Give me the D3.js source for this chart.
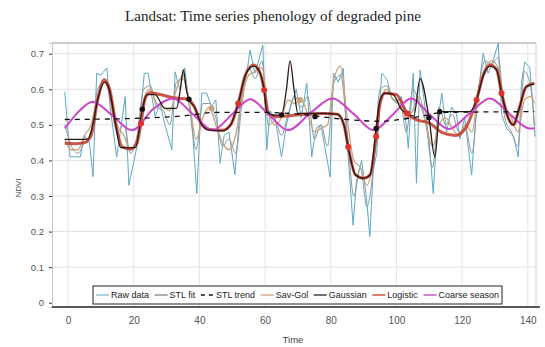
<!DOCTYPE html>
<html>
<head>
<meta charset="utf-8">
<script src="https://cdn.jsdelivr.net/npm/d3@7"></script>
<style>
  body { margin: 0; background: #fff; }
  svg { display: block; }
</style>
</head>
<body>
<div id="chart"></div>
<script>
// ---- data (time, NDVI) ----
const rawData = [[-1,0.593],[0.6,0.41],[2,0.41],[3.7,0.41],[5,0.47],[6.5,0.45],[7.6,0.354],[8.7,0.645],[10,0.64],[11.8,0.66],
  [12.8,0.55],[14.8,0.41],[17.4,0.579],[18.5,0.33],[21.4,0.457],[23.2,0.645],[24.4,0.645],[26.5,0.523],[28,0.56],[29.5,0.5],
  [31.6,0.43],[32.6,0.649],[34,0.6],[35.5,0.66],[37,0.55],[38,0.47],[39.2,0.307],[40.7,0.589],[42.2,0.589],[43.7,0.551],
  [45,0.57],[46.3,0.392],[47.5,0.47],[49,0.48],[50.8,0.36],[52,0.5],[52.9,0.598],[54.5,0.65],[55.4,0.71],[56.9,0.645],
  [58,0.68],[59.3,0.724],[60.5,0.43],[61.5,0.54],[63,0.52],[65,0.41],[66.5,0.5],[68,0.56],[69.5,0.6],[71,0.52],
  [72.7,0.617],[74.2,0.41],[75.5,0.49],[77,0.5],[79.8,0.354],[80.8,0.645],[82.3,0.62],[83.8,0.659],[84.8,0.476],[86.8,0.218],
  [87.8,0.34],[89.4,0.4],[90.8,0.3],[91.9,0.186],[92.9,0.37],[94,0.42],[95.5,0.645],[97,0.63],[98.5,0.58],[100,0.56],
  [101.5,0.58],[103,0.5],[103.6,0.434],[105.1,0.645],[106.1,0.336],[107.2,0.654],[108.7,0.55],[110,0.45],[111.2,0.307],[112.5,0.5],
  [113.8,0.589],[115.3,0.48],[116.8,0.55],[118.3,0.53],[119.3,0.46],[120.8,0.52],[122.9,0.359],[124.4,0.551],[126.4,0.701],[127.9,0.645],
  [129.4,0.68],[131,0.729],[132,0.53],[133.5,0.49],[135.6,0.47],[137.1,0.41],[138.1,0.62],[139.1,0.677],[140.6,0.66],[141.6,0.55],[142.2,0.467]];

const stlFit = [[-1,0.5],[1,0.44],[3,0.42],[5,0.45],[7,0.47],[9,0.6],[11,0.62],[13,0.58],[15,0.48],[17,0.5],[19,0.42],
  [21,0.47],[23,0.6],[25,0.61],[27,0.55],[29,0.54],[31,0.5],[33,0.62],[35,0.63],[37,0.55],[39,0.43],[41,0.56],[43,0.56],
  [45,0.52],[47,0.44],[49,0.46],[51,0.42],[53,0.56],[55,0.66],[57,0.63],[59,0.68],[61,0.5],[63,0.51],[65,0.47],[67,0.53],
  [69,0.58],[71,0.55],[73,0.58],[75,0.46],[77,0.5],[79,0.44],[81,0.62],[83,0.64],[85,0.48],[87,0.3],[89,0.38],[91,0.27],
  [93,0.38],[95,0.6],[97,0.61],[99,0.57],[101,0.57],[103,0.48],[105,0.6],[107,0.56],[109,0.5],[111,0.38],[113,0.55],[115,0.5],
  [117,0.53],[119,0.48],[121,0.49],[123,0.42],[125,0.6],[127,0.68],[129,0.67],[131,0.69],[133,0.52],[135,0.48],[137,0.44],
  [139,0.65],[141,0.6],[142,0.5]];

const stlTrend = [[-1,0.515],[20,0.518],[35,0.525],[45,0.535],[60,0.535],[70,0.53],[85,0.515],[95,0.51],[105,0.52],[115,0.535],[142,0.537]];

const savGol = [[-1,0.46],[1,0.43],[3,0.43],[5,0.47],[7,0.5],[9,0.58],[11,0.63],[13,0.6],[15,0.5],[17,0.47],[19,0.43],
  [21,0.46],[23,0.57],[25,0.6],[27,0.56],[29,0.55],[31,0.54],[33,0.6],[35,0.64],[37,0.56],[39,0.46],[41,0.52],[43,0.55],
  [45,0.5],[47,0.45],[49,0.43],[51,0.47],[53,0.58],[55,0.64],[57,0.65],[59,0.66],[61,0.54],[63,0.5],[65,0.52],[67,0.57],
  [69,0.56],[71,0.57],[73,0.53],[75,0.48],[77,0.49],[79,0.5],[81,0.63],[83,0.665],[85,0.52],[87,0.4],[89,0.38],[91,0.33],
  [93,0.4],[95,0.56],[97,0.6],[99,0.57],[101,0.56],[103,0.52],[105,0.54],[107,0.58],[109,0.5],[111,0.44],[113,0.5],[115,0.52],
  [117,0.49],[119,0.47],[121,0.5],[123,0.48],[125,0.6],[127,0.66],[129,0.68],[131,0.66],[133,0.56],[135,0.52],[137,0.48],
  [139,0.57],[141,0.58],[142,0.56]];

const gaussian = [[-1,0.459],[3,0.459],[6,0.46],[7.5,0.5],[9,0.57],[11.2,0.62],[12.5,0.6],[14.5,0.5],[16,0.436],[20.5,0.436],
  [22.6,0.544],[24,0.585],[26.5,0.585],[29.5,0.546],[33,0.546],[34.2,0.6],[35.1,0.655],[36,0.6],[36.8,0.572],[38.5,0.55],
  [40.5,0.504],[43,0.485],[47,0.483],[49.5,0.5],[51.8,0.56],[54,0.64],[56.5,0.665],[58.5,0.645],[59.7,0.598],[60.5,0.537],
  [63,0.527],[65,0.528],[66.5,0.6],[67.6,0.68],[68.8,0.6],[70,0.532],[78,0.532],[82,0.53],[84,0.5],[85.3,0.438],[87.5,0.36],
  [90,0.35],[92,0.36],[93.8,0.49],[95,0.57],[96.5,0.589],[99,0.585],[101.6,0.542],[105.3,0.525],[107.2,0.63],[109.9,0.52],
  [111.7,0.41],[113.2,0.537],[122.4,0.537],[124.4,0.57],[126.5,0.64],[128.5,0.665],[130.5,0.655],[132,0.589],[134,0.52],
  [135.6,0.5],[137.5,0.55],[139.5,0.607],[142,0.615]];

const logistic = [[-1,0.448],[2,0.447],[5,0.45],[7,0.47],[9,0.57],[11,0.626],[12.5,0.6],[14.5,0.5],[16.5,0.438],[19,0.432],
  [21,0.45],[22.2,0.504],[23.5,0.575],[25,0.59],[28,0.585],[32,0.576],[36.5,0.572],[38.5,0.55],[40.5,0.504],[43,0.487],
  [47,0.485],[49.5,0.5],[51.8,0.56],[54,0.64],[56.5,0.668],[58.5,0.645],[59.7,0.598],[61,0.53],[63,0.523],[67,0.525],
  [72,0.53],[78,0.532],[82,0.53],[84,0.5],[85.3,0.438],[87.5,0.36],[90,0.35],[92,0.36],[93.8,0.467],[95,0.56],[96.5,0.589],
  [100,0.585],[103.3,0.532],[106.5,0.513],[110,0.505],[114,0.478],[118,0.47],[121,0.49],[124.4,0.57],[126.5,0.64],
  [128.5,0.668],[130.5,0.655],[132,0.589],[134,0.52],[135.6,0.5],[137.5,0.55],[139.5,0.607],[142,0.617]];

const coarseSeason = [[-1,0.49],[3,0.535],[7.5,0.565],[13,0.53],[19.5,0.485],[26,0.545],[32,0.574],[38,0.53],[44,0.485],
  [50,0.53],[55.5,0.572],[61,0.53],[67,0.485],[74,0.535],[80.5,0.574],[87,0.53],[93,0.485],[99,0.53],[104.5,0.574],
  [110,0.53],[116,0.488],[122,0.53],[128.5,0.574],[134.5,0.53],[140.5,0.49],[142,0.49]];

// phenology points
const logisticPheno = [[22.2,0.504],[51.8,0.56],[59.7,0.598],[85.3,0.438],[93.8,0.467],[103.3,0.532],[124.4,0.57],[132,0.589]];
const gaussianPheno = [[22.6,0.544],[36.8,0.572],[65,0.528],[75.2,0.523],[93.8,0.49],[109.9,0.52],[113.2,0.537]];
const savGolPheno = [[43.7,0.546],[70.6,0.57]];

const xTicks = [0, 20, 40, 60, 80, 100, 120, 140];
const yTicks = [0, 0.1, 0.2, 0.3, 0.4, 0.5, 0.6, 0.7];

const legendNames = ["Raw data", "STL fit", "STL trend", "Sav-Gol", "Gaussian", "Logistic", "Coarse season"];

// ---- layout ----
const width = 545, height = 347;
const plot = { left: 52, right: 536, top: 43, bottom: 307 };

const svg = d3.select("#chart").append("svg")
  .attr("width", width)
  .attr("height", height);

const x = d3.scaleLinear().domain([-4.9, 142.5]).range([plot.left, plot.right]);
const y = d3.scaleLinear().domain([-0.012, 0.73]).range([plot.bottom, plot.top]);

const tickFont = "'Liberation Sans Narrow', 'Arial Narrow', 'Liberation Sans', sans-serif";

// grid
svg.append("g")
  .selectAll("line.h")
  .data(yTicks.slice(1))
  .enter().append("line")
  .attr("x1", plot.left).attr("x2", plot.right)
  .attr("y1", d => y(d)).attr("y2", d => y(d))
  .style("stroke", "#e2e2e2");

svg.append("g")
  .selectAll("line.v")
  .data(xTicks)
  .enter().append("line")
  .attr("x1", d => x(d)).attr("x2", d => x(d))
  .attr("y1", plot.top).attr("y2", plot.bottom)
  .style("stroke", "#e6e6e6");

// frame
svg.append("line").attr("x1", plot.left).attr("x2", plot.right).attr("y1", plot.top).attr("y2", plot.top)
  .style("stroke", "#9a9a9a");
svg.append("line").attr("x1", plot.right).attr("x2", plot.right).attr("y1", plot.top).attr("y2", plot.bottom)
  .style("stroke", "#cfcfcf");

// axes
const yAxis = svg.append("g")
  .attr("transform", "translate(" + plot.left + ",0)")
  .call(d3.axisLeft(y).tickValues(yTicks).tickSize(3).tickPadding(5)
    .tickFormat(d => d === 0 ? "0" : d3.format(".1f")(d)));
yAxis.select(".domain").style("stroke", "#cccccc");
yAxis.selectAll(".tick line").style("stroke", "#333");
yAxis.selectAll("text").style("font-family", tickFont).style("font-size", "9.5px").style("fill", "#555");

const xAxis = svg.append("g")
  .attr("transform", "translate(0," + plot.bottom + ")")
  .call(d3.axisBottom(x).tickValues(xTicks).tickSize(0).tickPadding(10));
xAxis.select(".domain").remove();
xAxis.selectAll("text").style("font-family", tickFont).style("font-size", "10px").style("fill", "#555");

svg.append("line").attr("x1", plot.left).attr("x2", plot.right + 4).attr("y1", plot.bottom).attr("y2", plot.bottom)
  .style("stroke", "#222").style("stroke-width", 1.6);

// clip
svg.append("clipPath").attr("id", "clip")
  .append("rect")
  .attr("x", plot.left).attr("y", plot.top)
  .attr("width", plot.right - plot.left).attr("height", plot.bottom - plot.top);

const g = svg.append("g").attr("clip-path", "url(#clip)");

const straight = d3.line().x(d => x(d[0])).y(d => y(d[1]));
const smooth = d3.line().x(d => x(d[0])).y(d => y(d[1])).curve(d3.curveMonotoneX);

g.append("path").datum(rawData).attr("d", straight)
  .style("fill", "none").style("stroke", "#5ea8c4").style("stroke-width", 1);
g.append("path").datum(stlFit).attr("d", smooth)
  .style("fill", "none").style("stroke", "#8a9aa0").style("stroke-width", 1);
g.append("path").datum(savGol).attr("d", smooth)
  .style("fill", "none").style("stroke", "#c9a27c").style("stroke-width", 1.3);
g.append("path").datum(logistic).attr("d", smooth)
  .style("fill", "none").style("stroke", "#c23a2a").style("stroke-width", 3).style("opacity", 0.85);
g.append("path").datum(coarseSeason).attr("d", smooth)
  .style("fill", "none").style("stroke", "#cc44cc").style("stroke-width", 2);
g.append("path").datum(gaussian).attr("d", smooth)
  .style("fill", "none").style("stroke", "#2a1a16").style("stroke-width", 1.3);
g.append("path").datum(stlTrend).attr("d", smooth)
  .style("fill", "none").style("stroke", "#111").style("stroke-width", 1.3).style("stroke-dasharray", "5,5");

// pheno markers
g.selectAll("circle.sg").data(savGolPheno).enter().append("circle")
  .attr("cx", d => x(d[0])).attr("cy", d => y(d[1])).attr("r", 3)
  .style("fill", "#c9a27c");
g.selectAll("circle.lg").data(logisticPheno).enter().append("circle")
  .attr("cx", d => x(d[0])).attr("cy", d => y(d[1])).attr("r", 3)
  .style("fill", "#e0302a");
g.selectAll("circle.ga").data(gaussianPheno).enter().append("circle")
  .attr("cx", d => x(d[0])).attr("cy", d => y(d[1])).attr("r", 2.7)
  .style("fill", "#1a1010");

// title and axis labels
svg.append("text")
  .attr("x", 273).attr("y", 21)
  .attr("text-anchor", "middle")
  .style("font-family", "'Liberation Serif', 'Times New Roman', serif")
  .style("font-size", "15px")
  .style("fill", "#222")
  .text("Landsat: Time series phenology of degraded pine");

svg.append("text")
  .attr("transform", "translate(21,188) rotate(-90)")
  .attr("text-anchor", "middle")
  .style("font-family", tickFont)
  .style("font-size", "8px")
  .style("fill", "#444")
  .text("NDVI");

svg.append("text")
  .attr("x", 293).attr("y", 343)
  .attr("text-anchor", "middle")
  .style("font-family", tickFont)
  .style("font-size", "9.5px")
  .style("fill", "#444")
  .text("Time");

// legend
const legendBox = { x: 93, y: 286, w: 409, h: 18 };
const legend = svg.append("g");
legend.append("rect")
  .attr("x", legendBox.x).attr("y", legendBox.y)
  .attr("width", legendBox.w).attr("height", legendBox.h)
  .style("fill", "#fff").style("stroke", "#222").style("stroke-width", 1);

const legendStyles = [
  { stroke: "#5ea8c4", width: 1, dash: null },
  { stroke: "#4f5f66", width: 1, dash: null },
  { stroke: "#111", width: 1.3, dash: "4,4" },
  { stroke: "#c9a27c", width: 1.3, dash: null },
  { stroke: "#222", width: 1.3, dash: null },
  { stroke: "#d0553f", width: 1.5, dash: null },
  { stroke: "#c65ccb", width: 1.5, dash: null }
];

const items = legend.selectAll("g.item").data(legendNames).enter().append("g");
items.append("line")
  .attr("y1", legendBox.y + legendBox.h / 2).attr("y2", legendBox.y + legendBox.h / 2)
  .style("stroke", (d, i) => legendStyles[i].stroke)
  .style("stroke-width", (d, i) => legendStyles[i].width)
  .style("stroke-dasharray", (d, i) => legendStyles[i].dash);
items.append("text")
  .attr("y", legendBox.y + legendBox.h / 2 + 3.2)
  .style("font-family", tickFont)
  .style("font-size", "9px")
  .style("fill", "#222")
  .text(d => d);

// place items left to right, spreading the gaps to fill the box
const lineLen = 13, lineGap = 2, pad = 3;
const widths = [];
items.select("text").each(function() { widths.push(this.getComputedTextLength()); });
const used = d3.sum(widths) + legendNames.length * (lineLen + lineGap);
const gap = Math.max(2, (legendBox.w - 2 * pad - used) / (legendNames.length - 1));
let cx = legendBox.x + pad;
items.each(function(d, i) {
  const item = d3.select(this);
  item.select("line").attr("x1", cx).attr("x2", cx + lineLen);
  item.select("text").attr("x", cx + lineLen + lineGap);
  cx += lineLen + lineGap + widths[i] + gap;
});
</script>
</body>
</html>
